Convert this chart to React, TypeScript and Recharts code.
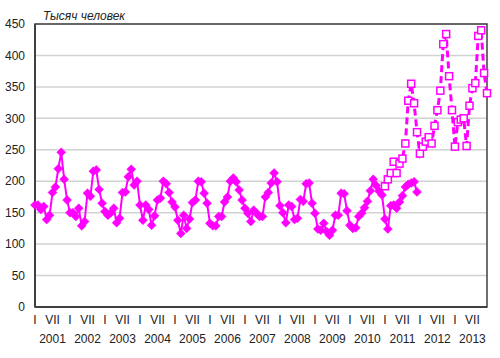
import React from 'react';
import { LineChart, Line, XAxis, YAxis, CartesianGrid, ReferenceArea } from 'recharts';

const years = [2001, 2002, 2003, 2004, 2005, 2006, 2007, 2008, 2009, 2010, 2011, 2012, 2013];
const monthMarks: Record<number, string> = { 0: 'I', 6: 'VII' };
const yTicks = [0, 50, 100, 150, 200, 250, 300, 350, 400, 450];
const unitLabel = 'Тысяч человек';

// Solid series (diamonds), monthly, 2001–2011
const solid2001 = [162, 162, 155, 160, 139, 146, 182, 191, 220, 246, 203, 170];
const solid2002 = [150, 150, 144, 157, 129, 136, 181, 176, 216, 218, 187, 165];
const solid2003 = [152, 146, 150, 157, 134, 141, 182, 183, 207, 219, 194, 200];
const solid2004 = [162, 138, 162, 155, 130, 145, 170, 173, 200, 196, 182, 167];
const solid2005 = [159, 138, 117, 146, 125, 140, 166, 170, 200, 199, 181, 165];
const solid2006 = [133, 129, 129, 144, 144, 167, 175, 200, 205, 199, 186, 170];
const solid2007 = [157, 149, 136, 154, 149, 144, 144, 175, 182, 197, 213, 199];
const solid2008 = [161, 150, 134, 162, 160, 139, 141, 171, 168, 196, 197, 165];
const solid2009 = [149, 124, 122, 133, 120, 114, 122, 146, 146, 181, 180, 153];
const solid2010 = [130, 125, 126, 144, 149, 158, 168, 185, 203, 193, 184, 178];
const solid2011 = [140, 124, 161, 162, 157, 167, 177, 191, 195, 197, 199, 183];

// Dashed series (hollow squares), monthly, 2011–2013
const dashed2011 = [192, 203, 213, 231, 213, 228, 236, 260, 328, 355, 324, 278];
const dashed2012 = [244, 255, 263, 270, 260, 288, 313, 344, 418, 434, 367, 313];
const dashed2013 = [255, 294, 298, 300, 256, 320, 348, 356, 431, 440, 372, 340];

const solidAll = [
  ...solid2001, ...solid2002, ...solid2003, ...solid2004, ...solid2005, ...solid2006,
  ...solid2007, ...solid2008, ...solid2009, ...solid2010, ...solid2011,
];
const dashedAll = [...dashed2011, ...dashed2012, ...dashed2013];
const dashedStart = 10 * 12;

const data = years.flatMap((yr, yi) =>
  Array.from({ length: 12 }, (_, m) => {
    const k = yi * 12 + m;
    return {
      k,
      year: yr,
      month: m,
      a: k < solidAll.length ? solidAll[k] : null,
      b: k >= dashedStart && k - dashedStart < dashedAll.length ? dashedAll[k - dashedStart] : null,
    };
  })
);

const MAGENTA = '#FF00FF';
const FONT = '"Liberation Sans", Arial, sans-serif';

const Diamond = (props: any) => {
  const { cx, cy, index } = props;
  if (cx == null || cy == null || props.value == null) return <g key={`d${index}`} />;
  const r = 4.5;
  return (
    <path
      key={`d${index}`}
      d={`M${cx},${cy - r}L${cx + r},${cy}L${cx},${cy + r}L${cx - r},${cy}Z`}
      fill={MAGENTA}
      stroke={MAGENTA}
      strokeWidth={0.5}
    />
  );
};

const Square = (props: any) => {
  const { cx, cy, index } = props;
  if (cx == null || cy == null || props.value == null) return <g key={`s${index}`} />;
  const r = 3.5;
  return (
    <rect
      key={`s${index}`}
      x={cx - r}
      y={cy - r}
      width={2 * r}
      height={2 * r}
      fill="#ffffff"
      stroke={MAGENTA}
      strokeWidth={1.5}
    />
  );
};

const MonthTick = (props: any) => {
  const { x, y, payload } = props;
  const k = Number(payload.value);
  const m = k % 12;
  const label = monthMarks[m];
  if (!label) return <g />;
  const yr = years[Math.floor(k / 12)];
  return (
    <g>
      <text x={x} y={y + 17} textAnchor="middle" fontSize={12} fontFamily={FONT} fill="#222">
        {label}
      </text>
      {m === 6 && (
        <text x={x} y={y + 36} textAnchor="middle" fontSize={12} fontFamily={FONT} fill="#222">
          {yr}
        </text>
      )}
    </g>
  );
};

export default function App() {
  return (
    <div style={{ position: 'absolute', left: 0, top: 0, width: 500, height: 358, background: '#fff' }}>
      <div
        style={{
          position: 'absolute',
          left: 43,
          top: 9,
          fontFamily: FONT,
          fontStyle: 'italic',
          fontSize: 12,
          lineHeight: '14px',
          color: '#222',
          whiteSpace: 'nowrap',
        }}
      >
        {unitLabel}
      </div>
      <LineChart width={500} height={358} data={data} margin={{ top: 24, right: 13, bottom: 0, left: 0 }}>
        <CartesianGrid vertical={false} stroke="#d2d2d2" strokeWidth={1.5} />
        <XAxis
          dataKey="k"
          type="category"
          interval={0}
          height={51}
          tickLine={false}
          tickSize={0}
          tickMargin={0}
          axisLine={{ stroke: '#404040', strokeWidth: 2 }}
          tick={MonthTick}
        />
        <YAxis
          domain={[0, 450]}
          ticks={yTicks}
          width={35}
          tickLine={false}
          tickSize={0}
          tickMargin={10}
          axisLine={{ stroke: '#404040', strokeWidth: 2 }}
          tick={{ fontSize: 12, fontFamily: FONT, fill: '#222' }}
        />
        <ReferenceArea y1={0} y2={450} fill="none" stroke="#404040" strokeWidth={1.5} ifOverflow="visible" />
        <Line
          dataKey="a"
          stroke={MAGENTA}
          strokeWidth={2}
          dot={Diamond}
          activeDot={false}
          isAnimationActive={false}
          connectNulls={false}
        />
        <Line
          dataKey="b"
          stroke={MAGENTA}
          strokeWidth={3}
          strokeDasharray="7 4"
          dot={Square}
          activeDot={false}
          isAnimationActive={false}
          connectNulls={false}
        />
      </LineChart>
    </div>
  );
}
